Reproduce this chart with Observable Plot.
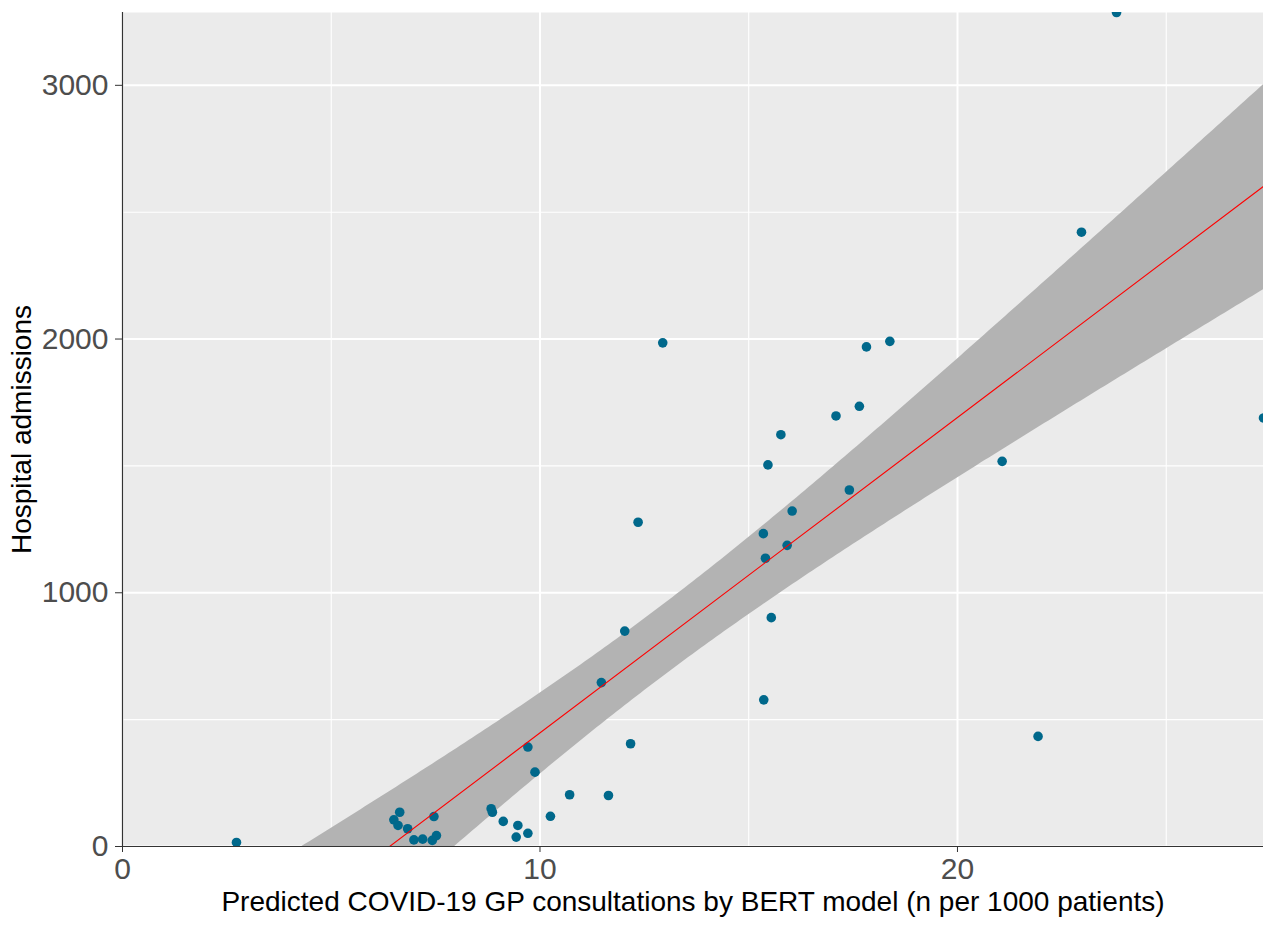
<!DOCTYPE html>
<html>
<head>
<meta charset="utf-8">
<script src="https://cdn.jsdelivr.net/npm/d3@7"></script>
<script src="https://cdn.jsdelivr.net/npm/@observablehq/plot@0.6"></script>
<style>
  html, body { margin: 0; padding: 0; background: white; }
  #chart { width: 1263px; height: 925px; }
</style>
</head>
<body>
<div id="chart"></div>
<script>
// Predicted COVID-19 GP consultations by BERT model (n per 1000 patients)
const consultations = [
  2.73, 6.50, 6.64, 6.60, 6.83, 6.98, 7.19, 7.42, 7.52, 7.46,
  8.83, 8.86, 9.12, 9.47, 9.71, 9.43, 10.25, 10.71, 9.88, 9.71,
  11.64, 12.17, 11.47, 12.03, 12.35, 12.94, 15.36, 15.54, 15.40, 15.92,
  15.35, 16.04, 17.41, 15.46, 15.77, 17.09, 17.65, 17.82, 18.38, 21.07,
  21.93, 22.97, 23.81, 27.33
];
// Hospital admissions
const admissions = [
  16, 105, 135, 83, 70, 26, 29, 24, 43, 118,
  149, 135, 99, 83, 52, 37, 119, 204, 293, 392,
  201, 405, 646, 849, 1278, 1985, 578, 902, 1136, 1187,
  1233, 1322, 1405, 1504, 1623, 1697, 1735, 1969, 1991, 1518,
  434, 2421, 3287, 1689
];
const xTicks = [0, 10, 20];
const xMinor = [5, 15, 25];
const yTicks = [0, 1000, 2000, 3000];
const yMinor = [500, 1500, 2500];
const xTitle = "Predicted COVID-19 GP consultations by BERT model (n per 1000 patients)";
const yTitle = "Hospital admissions";

const data = consultations.map((x, i) => ({x, y: admissions[i]}));

const chart = Plot.plot({
  width: 1263,
  height: 925,
  marginLeft: 122,
  marginRight: 0,
  marginTop: 12,
  marginBottom: 79,
  style: {fontFamily: "'Liberation Sans', Arial, sans-serif", background: "white", overflow: "visible"},
  x: {domain: [0, d3.max(consultations)]},
  y: {domain: [0, d3.max(admissions)]},
  marks: [
    Plot.frame({fill: "#EBEBEB", stroke: null}),
    Plot.gridX(xMinor, {stroke: "white", strokeOpacity: 1, strokeWidth: 1.1}),
    Plot.gridY(yMinor, {stroke: "white", strokeOpacity: 1, strokeWidth: 1.1}),
    Plot.gridX(xTicks, {stroke: "white", strokeOpacity: 1, strokeWidth: 2}),
    Plot.gridY(yTicks, {stroke: "white", strokeOpacity: 1, strokeWidth: 2}),
    Plot.linearRegressionY(data, {x: "x", y: "y", stroke: "none", fill: "#B3B3B3", fillOpacity: 1, clip: true}),
    Plot.dot(data, {x: "x", y: "y", r: 4.8, fill: "#00688B", stroke: null, clip: true}),
    Plot.linearRegressionY(data, {x: "x", y: "y", ci: 0, stroke: "red", strokeWidth: 1.1, clip: true}),
    Plot.axisX(xTicks, {tickSize: 6, tickPadding: 5, fontSize: 30, fill: "#4D4D4D", stroke: "#333333", label: null, tickFormat: d => String(d)}),
    Plot.axisY(yTicks, {tickSize: 7, tickPadding: 7, fontSize: 30, fill: "#4D4D4D", stroke: "#333333", label: null, tickFormat: d => String(d)}),
    Plot.ruleX([0], {stroke: "#333333", strokeWidth: 1.2}),
    Plot.ruleY([0], {stroke: "#333333", strokeWidth: 1.2}),
    Plot.text([xTitle], {frameAnchor: "bottom", dy: 64, fontSize: 28, fill: "black"}),
    Plot.text([yTitle], {frameAnchor: "left", textAnchor: "middle", dx: -100, rotate: -90, fontSize: 28, fill: "black"})
  ]
});
document.getElementById("chart").appendChild(chart);
</script>
</body>
</html>
